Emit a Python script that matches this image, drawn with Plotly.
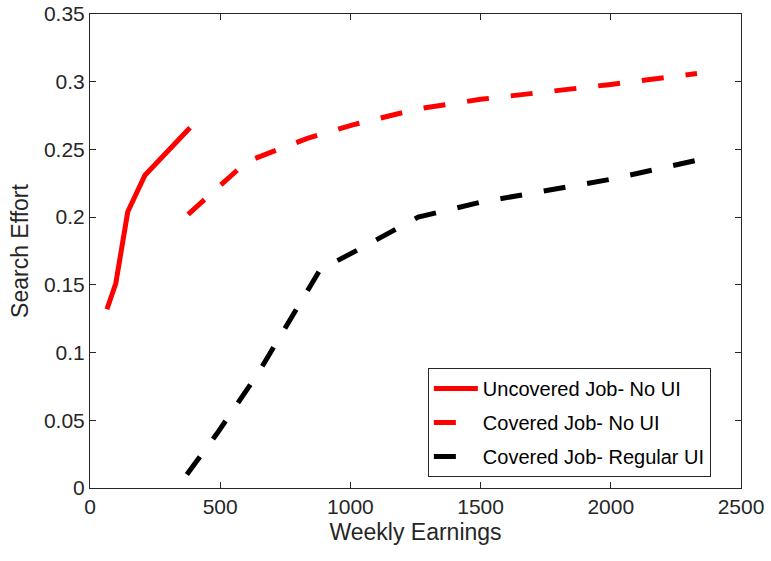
import plotly.graph_objects as go

# Data
uncov_x = [65, 99, 145, 211, 384]
uncov_y = [0.132, 0.151, 0.204, 0.231, 0.266]

cov_x = [377, 602, 832, 1006, 1260, 1500, 2000, 2331]
cov_y = [0.202, 0.241, 0.258, 0.268, 0.280, 0.287, 0.298, 0.306]

reg_x = [372, 487, 643, 832, 883, 1030, 1260, 1500, 2000, 2331]
reg_y = [0.010, 0.040, 0.084, 0.1435, 0.161, 0.176, 0.200, 0.211, 0.228, 0.242]

x_ticks = [0, 500, 1000, 1500, 2000, 2500]
y_ticks = [0, 0.05, 0.1, 0.15, 0.2, 0.25, 0.3, 0.35]
y_tick_text = ["0", "0.05", "0.1", "0.15", "0.2", "0.25", "0.3", "0.35"]

names = ["Uncovered Job- No UI", "Covered Job- No UI", "Covered Job- Regular UI"]
colors = ["#FF0000", "#FF0000", "#000000"]
dashes = ["solid", "22px,22px", "22px,22px"]
legend_dashes = ["solid", "22px,80px", "22px,80px"]

FONT = "Liberation Sans, Arial"

fig = go.Figure()
for xs, ys, c, d in zip([uncov_x, cov_x, reg_x], [uncov_y, cov_y, reg_y], colors, dashes):
    fig.add_trace(go.Scatter(x=xs, y=ys, mode="lines", showlegend=False,
                             line=dict(color=c, width=5, dash=d)))
# legend-only entries (MATLAB-like short dash samples)
for i, (n, c, d) in enumerate(zip(names, colors, legend_dashes)):
    fig.add_trace(go.Scatter(x=[None], y=[None], mode="lines", name=n,
                             legendgroup="g%d" % i,
                             line=dict(color=c, width=5, dash=d)))

axis_common = dict(showline=True, linecolor="#262626", linewidth=1, mirror="ticks",
                   ticks="inside", ticklen=6, tickcolor="#262626",
                   showgrid=False, zeroline=False, automargin=False,
                   tickfont=dict(family=FONT, size=21, color="#262626"))

fig.update_layout(
    width=771, height=561,
    paper_bgcolor="white", plot_bgcolor="white",
    margin=dict(l=90, r=30, t=14, b=73),
    showlegend=True,
    legend=dict(x=0.519, y=0.023, xanchor="left", yanchor="bottom",
                bgcolor="white", bordercolor="#262626", borderwidth=1,
                font=dict(family=FONT, size=20, color="#000000"),
                tracegroupgap=5, itemwidth=44),
    xaxis=dict(range=[0, 2500], tickvals=x_ticks,
               title=dict(text="Weekly Earnings", standoff=6,
                          font=dict(family=FONT, size=23, color="#262626")),
               **axis_common),
    yaxis=dict(range=[0, 0.35], tickvals=y_ticks, ticktext=y_tick_text,
               title=dict(text="Search Effort", standoff=8,
                          font=dict(family=FONT, size=23, color="#262626")),
               **axis_common),
)

fig.write_html("out.html", config={"displayModeBar": False},
               post_script="document.body.style.margin='0px';")
